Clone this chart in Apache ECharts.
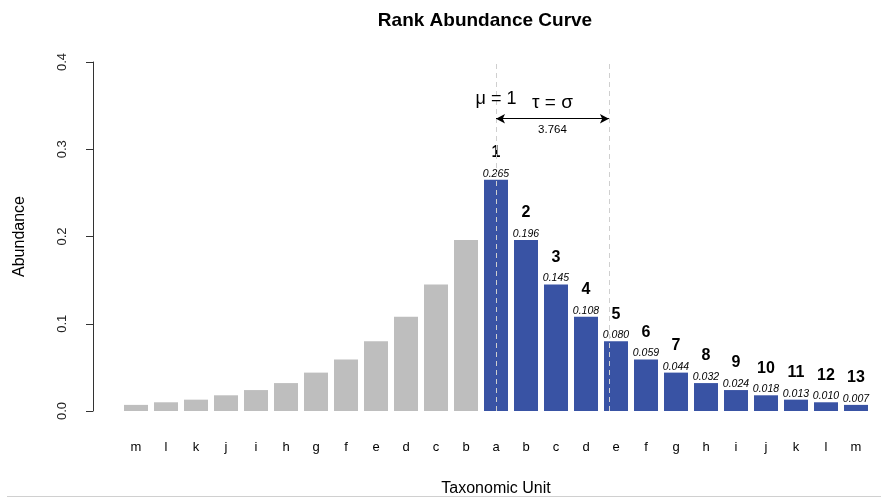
<!DOCTYPE html>
<html>
<head>
<meta charset="utf-8">
<title>Rank Abundance Curve</title>
<script src="https://cdn.jsdelivr.net/npm/echarts@6/dist/echarts.min.js"></script>
<style>
  html, body { margin: 0; padding: 0; background: #fff; }
  #chart { width: 881px; height: 502px; }
</style>
</head>
<body>
<div id="chart"></div>
<script>
// Taxa on the mirrored (left, grey) side, from rarest to most abundant
const leftCategories = ['m', 'l', 'k', 'j', 'i', 'h', 'g', 'f', 'e', 'd', 'c', 'b'];
const leftValues = [0.007, 0.010, 0.013, 0.018, 0.024, 0.032, 0.044, 0.059, 0.080, 0.108, 0.145, 0.196];

// Ranked taxa (right, blue side), from rank 1 downward
const rankCategories = ['a', 'b', 'c', 'd', 'e', 'f', 'g', 'h', 'i', 'j', 'k', 'l', 'm'];
const rankValues = [0.265, 0.196, 0.145, 0.108, 0.080, 0.059, 0.044, 0.032, 0.024, 0.018, 0.013, 0.010, 0.007];
const ranks = [1, 2, 3, 4, 5, 6, 7, 8, 9, 10, 11, 12, 13];

// Tick labels for the abundance axis
const yTicks = [0.0, 0.1, 0.2, 0.3, 0.4];

// Annotation values
const mu = 1;
const tau = 3.764;

const FONT = 'Liberation Sans, Arial, Helvetica, sans-serif';
const GREY = '#bebebe';
const BLUE = '#3953a4';

const categories = leftCategories.concat(rankCategories);
const muIndex = leftCategories.length + mu - 1;   // position of rank 1 on the axis
const tauIndex = muIndex + tau;

const barData = leftValues.map(v => ({ value: v, itemStyle: { color: GREY }, label: { show: false } }))
  .concat(rankValues.map((v, i) => ({
    value: v,
    itemStyle: { color: BLUE },
    label: { show: true, formatter: '{r|' + ranks[i] + '}\n{v|' + v.toFixed(3) + '}' }
  })));

const plainText = { color: '#000', textBorderWidth: 0, textBorderColor: 'transparent', fontFamily: FONT };

const chart = echarts.init(document.getElementById('chart'));
chart.setOption({
  animation: false,
  backgroundColor: '#fff',
  textStyle: { fontFamily: FONT },
  title: {
    text: 'Rank Abundance Curve',
    left: 480,
    textAlign: 'center',
    top: 6,
    textStyle: { fontFamily: FONT, fontSize: 19, fontWeight: 'bold', color: '#000' }
  },
  grid: { left: 121, right: 10, top: 62, bottom: 91 },
  xAxis: [
    {
      type: 'category',
      data: categories,
      axisLine: { show: false },
      axisTick: { show: false },
      axisLabel: { color: '#000', fontSize: 13, margin: 30, fontFamily: FONT },
      name: 'Taxonomic Unit',
      nameLocation: 'middle',
      nameGap: 70,
      nameTextStyle: { color: '#000', fontSize: 16, fontFamily: FONT }
    },
    {
      type: 'value',
      min: -0.5,
      max: categories.length - 0.5,
      show: false
    }
  ],
  yAxis: {
    type: 'value',
    min: yTicks[0],
    max: yTicks[yTicks.length - 1],
    interval: 0.1,
    offset: 28,
    splitLine: { show: false },
    axisLine: { show: true, onZero: false, lineStyle: { color: '#333', width: 1 } },
    axisTick: { show: true, length: 7, lineStyle: { color: '#333' } },
    axisLabel: {
      color: '#222', fontSize: 13, rotate: 90, margin: 24, fontFamily: FONT,
      formatter: v => v.toFixed(1)
    },
    name: 'Abundance',
    nameLocation: 'middle',
    nameGap: 65,
    nameTextStyle: { color: '#000', fontSize: 16, fontFamily: FONT }
  },
  series: [
    {
      type: 'bar',
      data: barData,
      barCategoryGap: '20%',
      label: {
        position: 'top',
        distance: 0,
        color: '#000',
        rich: {
          r: { fontSize: 16, fontWeight: 'bold', lineHeight: 30, color: '#000', fontFamily: FONT },
          v: { fontSize: 10.5, fontStyle: 'italic', lineHeight: 12, color: '#000', fontFamily: FONT }
        }
      }
    },
    {
      // dashed reference lines at mu and mu + tau
      type: 'line',
      xAxisIndex: 1,
      data: [],
      z: 5,
      markLine: {
        silent: true,
        symbol: 'none',
        label: { show: false },
        lineStyle: { color: '#cfcfcf', type: [5, 4], width: 1 },
        data: [{ xAxis: muIndex }, { xAxis: tauIndex }]
      }
    },
    {
      // double-headed arrow spanning tau
      type: 'line',
      xAxisIndex: 1,
      data: [],
      z: 6,
      markLine: {
        silent: true,
        symbol: ['arrow', 'arrow'],
        symbolSize: [7, 9],
        label: { show: false },
        lineStyle: { color: '#000', type: 'solid', width: 1 },
        data: [[{ coord: [muIndex, 0.335] }, { coord: [tauIndex, 0.335] }]]
      }
    },
    {
      // annotation texts
      type: 'scatter',
      xAxisIndex: 1,
      symbolSize: 0,
      z: 7,
      itemStyle: { color: '#000', opacity: 1 },
      label: Object.assign({ show: true, position: 'inside' }, plainText),
      data: [
        { value: [muIndex, 0.357], label: { formatter: 'μ = 1', fontSize: 18 } },
        { value: [(muIndex + tauIndex) / 2, 0.353], label: { formatter: 'τ = σ', fontSize: 19 } },
        { value: [(muIndex + tauIndex) / 2, 0.322], label: { formatter: tau.toFixed(3), fontSize: 11.5 } }
      ]
    }
  ],
  graphic: [
    {
      type: 'line',
      shape: { x1: 7, y1: 496.5, x2: 881, y2: 496.5 },
      style: { stroke: '#d0d0d0', lineWidth: 1 },
      silent: true
    }
  ]
});
</script>
</body>
</html>
